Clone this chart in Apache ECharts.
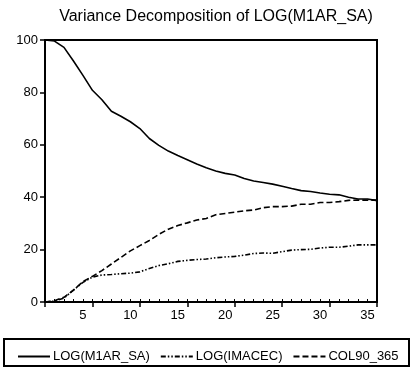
<!DOCTYPE html>
<html>
<head>
<meta charset="utf-8">
<script src="https://cdn.jsdelivr.net/npm/echarts@6/dist/echarts.min.js"></script>
<style>
  html, body { margin: 0; padding: 0; background: #fff; }
  #chart { width: 412px; height: 368px; }
</style>
</head>
<body>
<div id="chart"></div>
<script>
// periods 1..36
var periods = [];
for (var p = 1; p <= 36; p++) periods.push(p);

var m1arSa = [100, 99.6, 97.2, 92, 86.5, 80.8, 77.2, 72.8, 70.9, 68.8, 66.2, 62.4,
  59.8, 57.6, 55.9, 54.3, 52.7, 51.2, 50, 49.1, 48.5, 47.1, 46.2, 45.6,
  45, 44.2, 43.3, 42.5, 42.2, 41.6, 41.1, 40.9, 40, 39.3, 39.3, 38.7];

var imacec = [0, 0.3, 1.5, 4.5, 7.5, 9.5, 10.3, 10.5, 10.8, 11, 11.5, 12.8,
  13.9, 14.6, 15.5, 15.9, 16.2, 16.4, 16.9, 17.2, 17.4, 17.9, 18.5, 18.7,
  18.6, 19.2, 19.8, 20, 20.1, 20.6, 20.9, 20.9, 21.3, 21.8, 21.8, 21.8];

var col90 = [0, 0.5, 1.8, 4.5, 7.8, 9.8, 12, 14.5, 17, 19.5, 21.5, 23.5,
  25.8, 27.8, 29.2, 30.2, 31.3, 31.9, 33.3, 33.8, 34.3, 34.8, 35.1, 36,
  36.4, 36.4, 36.6, 37.3, 37.3, 38, 38, 38.3, 38.8, 38.9, 38.9, 38.9];

var seriesNames = ['LOG(M1AR_SA)', 'LOG(IMACEC)', 'COL90_365'];
var yTicks = [0, 20, 40, 60, 80, 100];

var font = 'Liberation Sans, Arial, sans-serif';

function pairs(vals) {
  return vals.map(function (v, i) { return [periods[i], v]; });
}

var chart = echarts.init(document.getElementById('chart'));
chart.setOption({
  animation: false,
  backgroundColor: '#fff',
  title: {
    text: 'Variance Decomposition of LOG(M1AR_SA)',
    left: 211,
    textAlign: 'center',
    top: 4,
    textStyle: { fontFamily: font, fontSize: 16, fontWeight: 'normal', color: '#000' }
  },
  grid: {
    left: 45, top: 40, right: 35, height: 262,
    show: true, borderColor: '#000', borderWidth: 2, backgroundColor: 'transparent'
  },
  legend: {
    data: seriesNames,
    left: 12, top: 345,
    itemWidth: 32, itemHeight: 10, itemGap: 10,
    itemStyle: { opacity: 0 },
    textStyle: { fontFamily: font, fontSize: 13, color: '#000', padding: [0, 0, 0, -2] }
  },
  graphic: [{
    type: 'rect',
    shape: { x: 4, y: 339, width: 405, height: 27 },
    style: { fill: 'none', stroke: '#000', lineWidth: 2 },
    z: 100
  }],
  xAxis: [{
    type: 'value', min: 1, max: 36, interval: 5,
    position: 'bottom',
    axisLine: { onZero: false, lineStyle: { color: '#000', width: 2 } },
    axisTick: { length: 5, lineStyle: { color: '#000', width: 1.5 } },
    axisLabel: {
      margin: 7, fontFamily: font, fontSize: 13, color: '#000',
      customValues: [5, 10, 15, 20, 25, 30, 35]
    },
    splitLine: { show: false }
  }, {
    type: 'value', min: 1, max: 36, interval: 1,
    position: 'bottom',
    axisLine: { show: false, onZero: false },
    axisTick: { inside: true, length: 3, lineStyle: { color: '#000', width: 1 } },
    axisLabel: { show: false },
    splitLine: { show: false }
  }],
  yAxis: {
    type: 'value', min: 0, max: 100, interval: 20,
    axisLine: { show: true, lineStyle: { color: '#000', width: 2 } },
    axisTick: { show: true, length: 5, lineStyle: { color: '#000', width: 1.5 } },
    axisLabel: { margin: 7, fontFamily: font, fontSize: 13, color: '#000',
      customValues: yTicks },
    splitLine: { show: false }
  },
  series: [{
    name: seriesNames[0], type: 'line', data: pairs(m1arSa),
    symbol: 'none', lineStyle: { color: '#000', width: 1.6, type: 'solid' },
    itemStyle: { color: '#000' }
  }, {
    name: seriesNames[1], type: 'line', data: pairs(imacec),
    symbol: 'none', lineStyle: { color: '#000', width: 1.6, type: [5, 2, 1.5, 2, 1.5, 2] },
    itemStyle: { color: '#000' }
  }, {
    name: seriesNames[2], type: 'line', data: pairs(col90),
    symbol: 'none', lineStyle: { color: '#000', width: 1.6, type: [6, 3] },
    itemStyle: { color: '#000' }
  }]
});
</script>
</body>
</html>
